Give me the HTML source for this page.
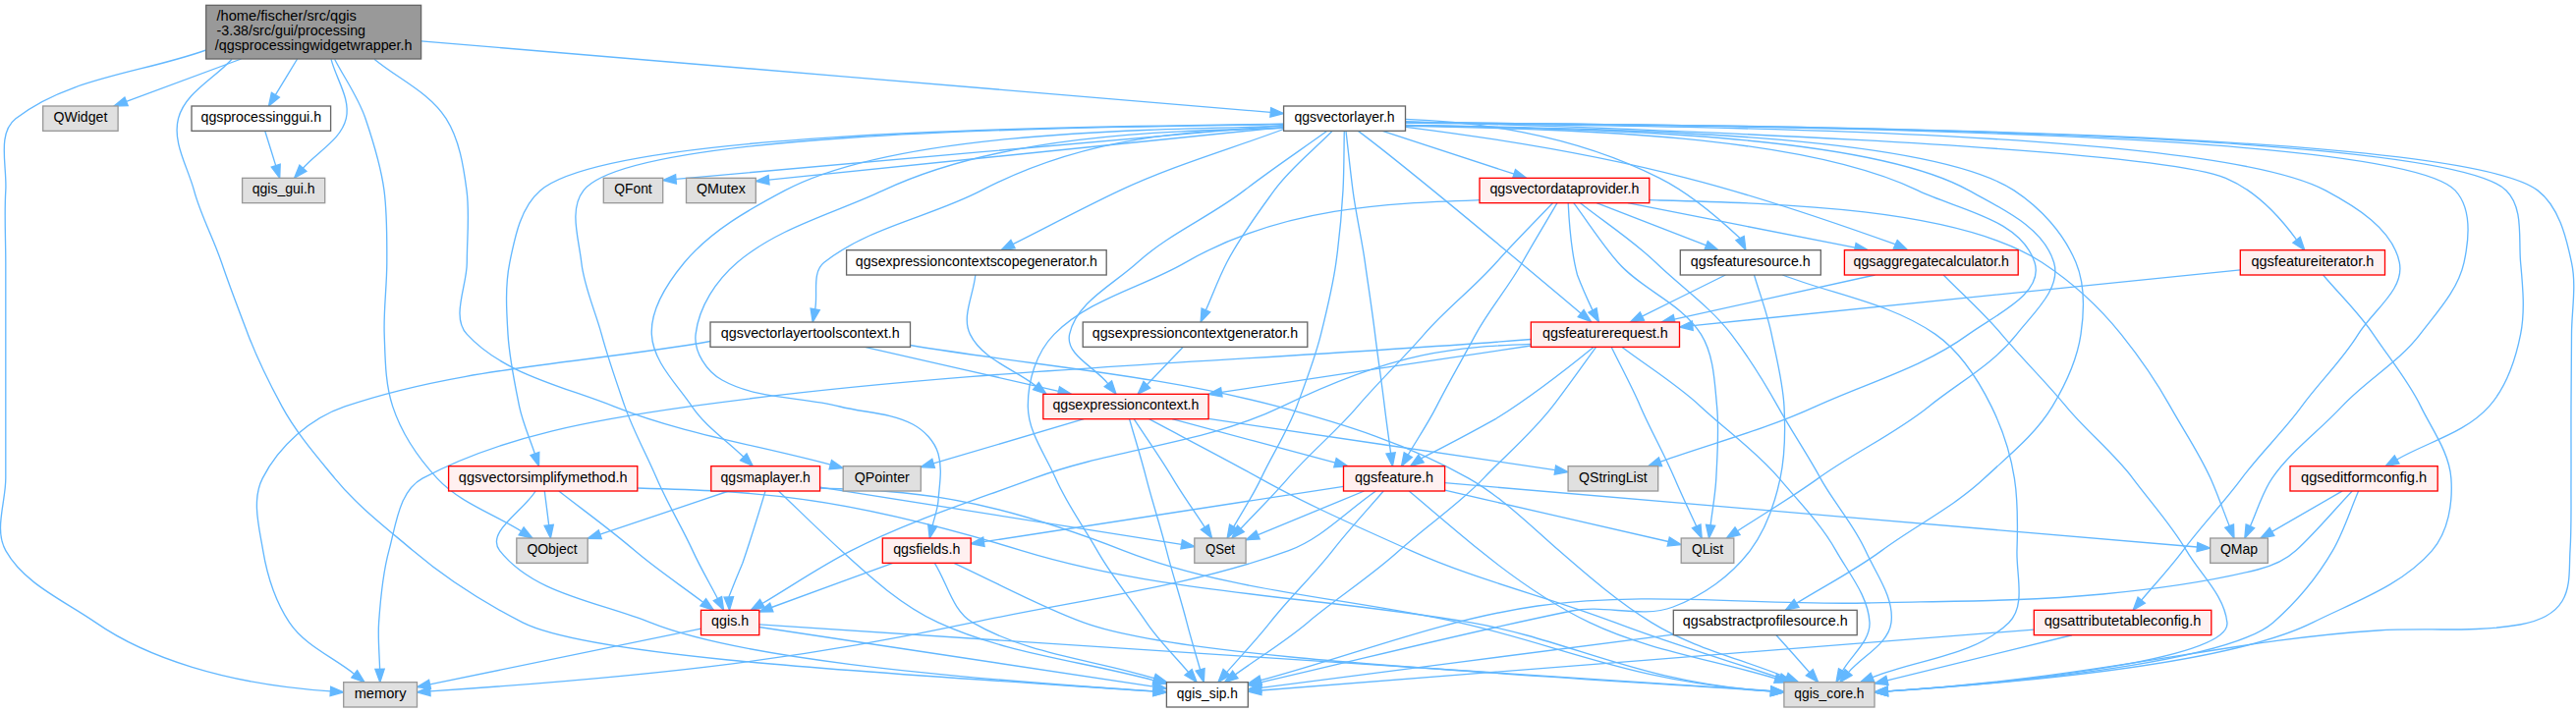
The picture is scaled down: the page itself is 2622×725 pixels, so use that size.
<!DOCTYPE html>
<html><head><meta charset="utf-8"><style>html,body{margin:0;padding:0;background:#fff;overflow:hidden}svg{display:block}</style></head><body>
<svg xmlns="http://www.w3.org/2000/svg" width="2622" height="725" viewBox="0 0 2622 725">
<rect width="2622" height="725" fill="#fff"/>
<g fill="none" stroke="#63b8ff" stroke-width="1.333">
<path d="M428.6,41.8C716.8,66.0 1005.1,90.2 1293.3,114.4"/>
<path d="M236.0,60.2C217.8,80.4 188.3,94.4 181.5,120.7C175.2,144.9 191.0,169.8 197.5,193.9C204.3,219.2 217.1,242.5 225.5,267.3C233.8,291.9 243.2,316.1 252.4,340.4C262.0,365.7 274.1,390.1 287.0,413.9C301.4,440.5 321.6,463.7 340.8,487.1C363.6,515.0 392.8,537.2 420.2,560.6C454.1,589.5 492.3,613.7 532.0,633.9C601.0,668.9 885.8,684.7 1174.1,703.9"/>
<path d="M209.7,51.0C145.1,74.2 70.1,78.5 16.0,120.7C-3.4,135.8 7.3,169.3 5.8,193.9C4.3,218.3 5.8,242.8 5.8,267.3C5.8,291.7 5.8,316.0 5.8,340.4C5.8,364.9 5.8,389.4 5.8,413.9C5.8,438.3 5.8,462.7 5.8,487.1C5.8,511.6 -6.2,539.2 5.8,560.6C24.9,594.7 65.3,611.6 97.4,633.9C147.8,668.9 229.1,696.8 336.4,703.9"/>
<path d="M340.6,60.2C351.1,80.4 364.7,99.2 372.0,120.7C380.1,144.6 387.7,168.9 391.0,193.9C394.2,218.2 393.8,242.8 393.8,267.3C393.8,291.7 390.3,316.0 391.2,340.4C392.1,365.0 392.0,390.5 399.7,413.9C408.7,441.1 425.5,466.1 445.0,487.1C467.9,511.8 502.0,523.0 530.6,540.9"/>
<path d="M381.0,60.2C405.3,80.4 437.1,94.0 454.0,120.7C467.6,142.2 471.7,168.7 475.0,193.9C478.2,218.2 475.3,242.8 475.3,267.3C475.3,291.7 458.8,322.5 475.3,340.4C512.9,381.3 573.4,393.3 625.0,413.9C695.6,442.1 771.9,453.4 845.3,473.2"/>
<path d="M302.6,60.0C295.2,72.2 287.8,84.4 280.4,96.6"/>
<path d="M337.0,60.2C342.1,80.4 357.0,100.4 352.3,120.7C347.3,142.4 323.0,154.4 308.4,171.3"/>
<path d="M245.5,60.0C206.5,74.5 167.5,88.9 128.6,103.4"/>
<path d="M1430.5,124.7C1751.0,128.1 2440.4,131.6 2499.0,193.9C2515.9,211.9 2513.3,243.2 2508.0,267.3C2501.9,295.2 2480.6,317.7 2463.3,340.4C2441.4,369.1 2408.2,387.4 2383.7,413.9C2360.6,438.9 2331.9,459.1 2312.6,487.1C2302.5,501.8 2297.8,519.6 2290.4,535.9"/>
<path d="M1430.5,124.4C1776.2,127.9 2500.9,131.4 2583.0,193.9C2604.5,210.3 2611.9,240.9 2617.5,267.3C2622.6,291.1 2617.6,316.0 2617.5,340.4C2617.4,364.9 2617.1,389.4 2617.0,413.9C2616.9,438.3 2617.1,462.7 2617.0,487.1C2616.8,511.6 2617.6,536.1 2616.0,560.6C2614.9,577.9 2617.0,597.2 2608.0,612.0C2599.5,626.0 2581.2,633.1 2565.0,636.0C2517.4,644.4 2468.3,638.9 2420.0,642.0C2265.5,651.9 2145.2,689.0 1921.3,703.9"/>
<path d="M1306.6,128.6C1154.3,131.9 909.9,135.2 799.0,193.9C761.9,213.6 723.5,235.0 696.6,267.3C679.5,287.9 662.0,313.7 663.3,340.4C664.6,368.4 688.6,390.6 704.3,413.9C718.0,434.2 739.3,448.2 756.8,465.3"/>
<path d="M1368.3,133.3C1367.9,153.5 1368.1,173.7 1367.0,193.9C1365.6,218.4 1363.3,243.0 1359.9,267.3C1356.5,292.0 1350.5,316.2 1344.5,340.4C1338.3,365.5 1328.8,389.7 1319.8,413.9C1310.3,439.4 1295.2,462.5 1283.6,487.1C1275.6,504.2 1265.0,520.0 1255.7,536.4"/>
<path d="M1306.6,126.5C1092.8,129.9 641.9,133.3 594.0,193.9C578.8,213.1 589.1,243.0 591.8,267.3C594.6,292.4 605.7,316.0 612.3,340.4C619.0,365.2 627.6,389.6 636.0,413.9C644.7,439.1 658.0,462.5 668.4,487.1C679.1,512.3 693.6,535.7 705.0,560.6C712.6,577.3 721.9,593.2 730.4,609.5"/>
<path d="M1356.2,133.3C1336.4,153.5 1313.5,171.0 1297.0,193.9C1279.9,217.6 1262.1,241.2 1248.7,267.3C1240.6,283.0 1234.5,299.6 1227.4,315.8"/>
<path d="M1350.9,133.3C1322.8,153.5 1293.9,172.8 1266.5,193.9C1231.9,220.6 1190.1,237.8 1157.8,267.3C1133.0,290.0 1095.7,307.6 1088.6,340.4C1084.1,361.2 1114.8,374.0 1127.9,390.8"/>
<path d="M1430.5,128.4C1587.0,131.7 1829.6,135.0 1952.0,193.9C1994.0,214.1 2056.9,222.9 2071.0,267.3C2081.0,298.9 2030.4,320.9 2003.7,340.4C1957.4,374.3 1900.1,389.9 1848.0,413.9C1797.2,437.3 1742.7,451.4 1690.0,470.2"/>
<path d="M1370.0,133.3C1372.3,153.5 1374.4,173.7 1377.0,193.9C1380.2,218.5 1386.0,242.7 1389.4,267.3C1392.8,291.7 1396.6,316.0 1399.6,340.4C1402.6,364.9 1406.4,389.4 1409.3,413.9C1411.2,429.8 1413.5,445.6 1415.6,461.4"/>
<path d="M1306.6,130.3C1184.3,133.5 1020.8,136.7 899.0,193.9C849.0,217.4 792.4,231.5 750.4,267.3C729.0,285.6 711.3,312.4 708.1,340.4C706.0,358.2 719.3,378.3 735.0,387.0C770.8,406.9 815.3,403.8 855.0,414.0C879.6,420.3 906.6,420.1 929.0,432.0C940.7,438.2 951.2,449.3 955.0,462.0C959.6,477.3 956.1,494.0 955.0,510.0C954.4,518.5 951.1,526.7 949.2,535.0"/>
<path d="M1430.5,127.8C1602.5,131.1 1897.8,134.4 2004.0,193.9C2037.0,212.4 2079.8,231.0 2090.6,267.3C2098.5,293.6 2069.6,318.8 2052.7,340.4C2028.9,370.8 1993.3,389.7 1963.3,413.9C1928.4,442.0 1886.9,460.8 1850.6,487.1C1824.1,506.2 1795.9,522.8 1768.5,540.7"/>
<path d="M1306.6,131.5C1251.1,152.3 1193.6,168.6 1140.0,193.9C1103.2,211.3 1067.3,230.4 1031.0,248.7"/>
<path d="M1306.6,127.5C1100.4,145.8 894.2,164.0 688.0,182.3"/>
<path d="M1430.6,123.7C1620.6,129.4 2187.1,148.8 2265.4,181.3 2297.6,194.8 2322.6,223.6 2337.4,243.9"/>
<path d="M1382.4,133.4C1429.5,168.3 1555.7,274.1 1609.0,318.9"/>
<path d="M1430.5,127.3C1616.3,130.7 1958.5,134.0 2050.0,193.9C2077.0,211.6 2100.6,237.5 2113.0,267.3C2122.4,289.8 2121.6,316.2 2118.0,340.4C2114.2,366.5 2102.6,391.3 2089.0,413.9C2071.6,442.7 2044.2,464.1 2019.7,487.1C1988.7,516.2 1949.5,535.3 1915.3,560.6C1888.0,580.8 1857.5,596.4 1828.5,614.3"/>
<path d="M1306.6,130.3C1214.3,133.5 1108.5,136.7 999.0,193.9C946.9,221.1 884.8,230.8 838.8,267.3C826.1,277.3 832.7,299.0 829.7,314.9"/>
<path d="M1407.2,133.3C1451.8,147.9 1496.4,162.6 1541.1,177.2"/>
<path d="M1430.6,121.3C1495.1,123.3 1597.4,134.6 1689.2,181.3 1718.6,196.1 1750.3,222.9 1771.0,242.5"/>
<path d="M1430.8,129.3C1499.9,138.0 1616.0,155.0 1717.0,181.3 1787.8,199.4 1876.0,229.7 1928.9,248.7"/>
<path d="M1306.6,126.2C1079.6,129.6 620.9,133.0 550.0,193.9C529.8,211.2 524.1,241.2 518.8,267.3C514.0,291.2 515.5,316.1 517.0,340.4C518.5,365.2 523.7,389.6 528.6,413.9C532.0,430.4 539.1,446.0 544.4,462.0"/>
<path d="M1306.6,129.5C1131.9,147.4 957.2,165.3 782.6,183.1"/>
<path d="M1430.5,125.2C1711.5,128.6 2251.0,132.1 2367.0,193.9C2397.9,210.4 2435.3,233.0 2442.3,267.3C2447.9,294.8 2415.0,316.4 2400.3,340.4C2384.1,367.0 2361.0,388.7 2342.7,413.9C2324.0,439.6 2300.6,461.6 2281.7,487.1C2262.9,512.5 2240.8,535.2 2222.0,560.6C2208.9,578.2 2193.8,594.3 2179.7,611.1"/>
<path d="M1430.5,124.5C1766.7,128.0 2487.2,131.4 2551.0,193.9C2568.8,211.4 2563.4,242.5 2565.6,267.3C2567.8,291.6 2570.3,316.5 2565.6,340.4C2560.4,366.6 2551.3,393.9 2533.5,413.9C2509.5,440.9 2470.9,450.0 2439.6,468.0"/>
<path d="M834.6,497.0C927.3,500.2 996.6,503.4 1143.5,560.6C1252.0,602.9 1371.4,608.6 1485.0,633.9C1590.8,657.5 1660.0,694.4 1802.6,703.9"/>
<path d="M834.6,496.1C957.3,515.6 1080.0,535.0 1202.6,554.4"/>
<path d="M779.0,500.2C774.1,516.5 764.9,547.2 755.9,573.3 751.1,584.7 746.0,597.3 741.8,607.9"/>
<path d="M792.5,500.0C813.7,520.2 834.6,540.8 856.2,560.6C886.4,588.3 917.8,616.7 955.0,633.9C1023.8,665.6 1101.3,673.1 1174.5,692.8"/>
<path d="M741.7,500.0C698.1,514.7 654.4,529.5 610.8,544.2"/>
<path d="M772.8,635.9C1116.1,658.4 1459.3,680.9 1802.6,703.4"/>
<path d="M772.8,638.5C906.6,658.7 1040.4,678.9 1174.2,699.1"/>
<path d="M713.5,640.1C621.5,659.1 529.5,678.0 437.6,696.9"/>
<path d="M1204.3,353.3C1192.0,366.1 1179.7,378.9 1167.4,391.7"/>
<path d="M1169.6,426.7C1207.2,446.8 1245.2,466.3 1282.5,487.1C1332.0,514.8 1384.2,537.3 1435.9,560.6C1502.9,590.8 1575.3,607.5 1644.0,633.9C1699.1,655.0 1755.8,671.6 1811.7,690.4"/>
<path d="M1154.2,426.7C1167.4,446.8 1181.5,466.4 1193.7,487.1C1203.8,504.2 1215.5,520.3 1226.3,536.9"/>
<path d="M1149.6,426.7C1155.3,446.8 1161.6,466.8 1166.8,487.1C1173.1,511.8 1181.2,535.9 1187.4,560.6C1193.6,585.2 1201.8,609.3 1208.0,633.9C1212.1,650.0 1217.1,665.9 1221.6,681.8"/>
<path d="M1230.1,426.4C1347.7,443.8 1465.3,461.2 1582.9,478.6"/>
<path d="M1193.1,426.7C1248.4,441.5 1303.7,456.4 1359.0,471.2"/>
<path d="M1103.1,426.7C1052.1,441.7 1001.1,456.8 950.1,471.9"/>
<path d="M1470.6,491.7C1725.9,513.5 1981.1,535.3 2236.4,557.0"/>
<path d="M1434.2,500.0C1458.2,520.2 1482.0,540.8 1506.4,560.6C1541.0,588.6 1577.9,614.6 1618.0,633.9C1677.3,662.4 1744.1,671.8 1807.1,690.8"/>
<path d="M1388.5,500.0C1352.4,514.9 1316.4,529.8 1280.4,544.7"/>
<path d="M1408.2,500.0C1390.9,520.2 1372.7,539.6 1356.4,560.6C1336.5,586.2 1312.6,608.4 1292.7,633.9C1278.9,651.5 1263.3,667.7 1248.6,684.6"/>
<path d="M1400.5,500.0C1370.9,520.2 1345.5,548.4 1311.8,560.6C1208.4,598.1 1097.6,610.9 990.0,633.9C826.4,668.9 685.7,687.4 437.8,703.9"/>
<path d="M1367.5,495.3C1245.5,514.1 1123.4,532.9 1001.4,551.7"/>
<path d="M1470.6,499.2C1546.5,516.6 1622.3,534.1 1698.2,551.5"/>
<path d="M970.9,573.3C1014.9,593.5 1057.5,617.2 1103.0,633.9C1198.1,668.9 1488.5,683.0 1802.6,703.9"/>
<path d="M908.7,573.3C867.6,588.4 826.4,603.5 785.3,618.5"/>
<path d="M951.3,573.3C964.2,593.5 969.3,621.8 990.0,633.9C1045.7,666.4 1113.3,671.8 1174.9,690.7"/>
<path d="M992.8,280.0C991.0,300.1 978.5,322.3 987.4,340.4C999.9,365.9 1032.1,375.5 1054.5,393.0"/>
<path d="M2364.6,280.0C2381.6,300.1 2401.1,318.5 2415.7,340.4C2432.0,364.8 2451.2,387.5 2464.0,413.9C2475.6,437.7 2493.0,460.7 2494.9,487.1C2496.7,512.4 2492.1,541.4 2475.5,560.6C2444.6,596.4 2396.3,612.7 2354.0,633.9C2284.0,668.9 2115.6,691.0 1921.3,703.9"/>
<path d="M2280.3,274.8C2094.5,293.8 1908.6,312.7 1722.8,331.6"/>
<path d="M1650.7,353.3C1677.5,373.5 1706.4,391.1 1731.0,413.9C1757.5,438.5 1787.7,459.5 1811.0,487.1C1831.1,510.9 1853.4,533.5 1868.7,560.6C1882.0,584.1 1901.6,607.0 1903.0,633.9C1903.9,652.6 1884.7,666.7 1875.5,683.0"/>
<path d="M1558.3,350.3C1482.3,353.5 1422.9,356.7 1305.0,413.9C1226.0,452.2 1134.3,456.5 1052.0,487.1C989.7,510.3 925.7,530.3 866.5,560.6C835.2,576.6 806.1,596.5 775.9,614.5"/>
<path d="M1624.6,353.3C1609.8,373.5 1595.5,394.1 1580.2,413.9C1559.6,440.7 1533.4,462.7 1510.0,487.1C1484.0,514.3 1452.1,535.3 1424.3,560.6C1395.1,587.2 1361.3,608.5 1331.0,633.9C1307.8,653.4 1281.9,669.2 1257.3,686.9"/>
<path d="M1558.3,345.5C1272.9,368.3 985.6,374.4 702.0,413.9C609.0,426.9 512.9,443.0 430.0,487.1C406.2,499.8 403.0,534.5 395.9,560.6C389.4,584.4 387.3,609.3 385.6,633.9C384.5,649.7 386.2,665.5 386.6,681.3"/>
<path d="M1558.3,352.0C1453.3,367.8 1348.3,383.6 1243.3,399.4"/>
<path d="M1622.0,353.4C1601.6,370.0 1562.0,401.7 1522.2,426.7 1497.2,440.7 1468.9,455.5 1446.9,466.7"/>
<path d="M1640.1,353.3C1650.0,373.5 1660.8,393.3 1669.7,413.9C1680.4,438.7 1694.0,462.2 1704.5,487.1C1711.4,503.6 1719.3,519.6 1726.7,535.9"/>
<path d="M1808.0,646.7C1819.3,659.3 1830.6,672.0 1841.8,684.7"/>
<path d="M1703.3,646.1C1563.4,664.1 1423.4,682.2 1283.5,700.3"/>
<path d="M926.5,351.5C1051.2,372.3 1178.5,381.5 1300.7,413.9C1367.6,431.6 1434.9,452.8 1495.0,487.1C1529.1,506.5 1557.3,534.8 1586.8,560.6C1616.7,586.8 1647.2,613.0 1681.0,633.9C1723.0,659.9 1772.6,671.1 1818.4,689.7"/>
<path d="M723.0,347.5C599.0,369.6 470.2,373.3 351.0,413.9C315.9,425.8 284.1,454.1 267.2,487.1C256.1,508.9 263.6,536.4 267.7,560.6C272.0,586.3 280.2,612.2 294.6,633.9C310.2,657.3 338.7,668.9 360.7,686.4"/>
<path d="M880.2,353.3C946.0,368.3 1011.7,383.4 1077.5,398.4"/>
<path d="M1678.8,203.7C1798.7,206.8 1991.5,210.0 2078.5,267.3C2108.8,287.2 2136.3,312.1 2159.0,340.4C2177.5,363.5 2194.6,388.0 2209.0,413.9C2222.6,438.3 2238.6,461.5 2250.0,487.1C2257.1,503.0 2262.8,519.4 2269.2,535.6"/>
<path d="M1608.5,206.7C1634.1,226.9 1661.8,244.6 1685.3,267.3C1710.7,291.9 1740.7,312.3 1762.2,340.4C1779.9,363.6 1795.4,388.4 1809.6,413.9C1823.4,438.7 1839.4,462.2 1853.0,487.1C1866.9,512.4 1887.1,534.2 1898.8,560.6C1909.3,584.3 1928.2,608.2 1925.0,633.9C1922.2,656.0 1896.0,667.7 1881.5,684.6"/>
<path d="M1580.4,206.7C1561.3,226.9 1541.4,246.4 1523.0,267.3C1500.2,293.2 1472.2,314.3 1449.6,340.4C1427.8,365.6 1403.4,388.5 1381.8,413.9C1359.8,439.8 1333.1,461.3 1310.9,487.1C1295.7,504.8 1278.9,521.2 1262.9,538.3"/>
<path d="M1506.0,203.7C1416.2,206.8 1305.8,210.0 1206.5,267.3C1162.6,292.7 1108.6,304.2 1073.0,340.4C1054.7,359.0 1046.1,387.8 1046.3,413.9C1046.5,440.0 1064.1,463.1 1074.5,487.1C1085.7,513.0 1102.9,536.0 1116.8,560.6C1131.4,586.4 1150.4,609.3 1167.0,633.9C1179.3,652.2 1195.4,667.6 1209.6,684.5"/>
<path d="M1585.0,206.7C1573.2,226.9 1560.9,246.8 1549.5,267.3C1535.4,292.7 1515.8,314.8 1502.1,340.4C1488.9,365.0 1474.8,389.0 1462.2,413.9C1453.6,430.9 1442.9,446.7 1433.2,463.2"/>
<path d="M1601.8,206.7C1616.8,226.9 1630.3,248.3 1646.9,267.3C1671.4,295.4 1711.8,308.7 1731.4,340.4C1744.6,361.7 1745.2,388.9 1747.6,413.9C1749.9,438.2 1748.0,462.7 1746.8,487.1C1746.0,503.1 1743.0,518.9 1741.1,534.8"/>
<path d="M1596.2,207.0C1597.0,223.5 1598.7,254.5 1605.5,280.0 1610.1,292.1 1615.9,305.1 1621.0,315.9"/>
<path d="M1625.1,206.7C1662.3,221.1 1699.5,235.5 1736.7,249.9"/>
<path d="M1656.9,206.7C1734.0,221.8 1811.1,237.0 1888.2,252.1"/>
<path d="M1814.4,280.0C1866.3,300.1 1924.4,308.5 1970.0,340.4C1995.4,358.2 2013.3,386.1 2027.0,413.9C2038.3,436.9 2046.4,461.8 2050.4,487.1C2054.3,511.3 2053.8,536.1 2053.0,560.6C2052.1,585.2 2062.4,616.7 2044.8,633.9C2009.0,668.7 1952.2,671.1 1905.9,689.7"/>
<path d="M1785.5,280.0C1791.4,300.1 1799.0,319.8 1803.2,340.4C1808.2,364.8 1814.7,389.1 1816.0,413.9C1817.3,438.3 1817.1,463.2 1812.0,487.1C1806.5,513.1 1797.3,539.4 1781.4,560.6C1762.0,586.5 1733.3,606.6 1703.0,618.0C1670.8,630.1 1633.7,615.2 1600.0,622.0C1493.8,643.6 1388.9,670.5 1283.3,694.8"/>
<path d="M1756.3,280.0C1728.0,294.0 1699.7,308.1 1671.4,322.1"/>
<path d="M1978.2,280.0C1997.9,300.1 2019.2,318.8 2037.3,340.4C2058.4,365.6 2082.2,388.5 2103.0,413.9C2124.1,439.6 2150.9,460.5 2170.9,487.1C2189.2,511.5 2210.0,534.3 2225.5,560.6C2239.7,584.8 2264.0,606.0 2266.9,633.9C2270.6,668.9 2076.5,693.6 1921.3,703.9"/>
<path d="M1908.5,280.0C1840.4,295.0 1772.3,310.1 1704.2,325.1"/>
<path d="M648.8,497.0C766.1,500.2 852.8,503.4 1039.8,560.6C1187.4,605.8 1345.0,607.3 1497.0,633.9C1599.9,651.9 1665.4,694.8 1802.6,703.9"/>
<path d="M568.8,500.0C594.6,520.2 621.2,539.3 646.0,560.6C668.1,579.6 692.5,595.7 715.7,613.3"/>
<path d="M545.1,500.0C532.9,520.2 494.0,542.1 508.6,560.6C543.6,605.2 609.4,612.7 662.0,633.9C749.0,668.9 944.2,688.6 1174.1,703.9"/>
<path d="M554.3,500.0C555.8,511.6 557.2,523.2 558.7,534.8"/>
<path d="M2109.0,646.7C2046.3,662.1 1983.6,677.5 1920.9,692.8"/>
<path d="M2070.3,641.1C1808.1,661.7 1545.8,682.4 1283.6,703.0"/>
<path d="M2384.2,500.0C2360.3,513.8 2336.4,527.6 2312.5,541.3"/>
<path d="M2400.6,500.0C2391.9,520.2 2385.5,541.6 2374.4,560.6C2358.4,588.0 2337.6,613.0 2313.7,633.9C2273.7,668.9 2097.5,692.2 1921.3,703.9"/>
<path d="M2394.2,500.0C2375.1,520.2 2357.4,541.8 2337.0,560.6C2326.3,570.5 2312.1,576.5 2298.0,580.0C2246.3,593.0 2193.1,600.0 2140.0,605.0C2060.3,612.6 1980.0,612.1 1900.0,614.0C1788.4,616.6 1675.6,601.3 1565.0,617.0C1468.7,630.7 1377.1,667.5 1283.2,692.7"/>
<path d="M269.7,133.3C273.4,145.1 277.1,156.8 280.7,168.6"/>
</g>
<g fill="#63b8ff" stroke="#63b8ff" stroke-width="1.333">
<polygon points="1306.6,115.5 1292.9,119.0 1293.7,109.7"/>
<polygon points="1187.4,704.8 1173.8,708.6 1174.4,699.3"/>
<polygon points="349.7,704.8 336.1,708.6 336.7,699.3"/>
<polygon points="541.9,548.0 528.1,544.9 533.1,537.0"/>
<polygon points="858.2,476.7 844.1,477.7 846.5,468.7"/>
<polygon points="273.5,108.0 276.4,94.2 284.4,99.0"/>
<polygon points="299.6,181.3 304.9,168.2 311.9,174.3"/>
<polygon points="116.0,108.0 126.9,99.0 130.2,107.7"/>
<polygon points="2284.8,548.0 2286.1,533.9 2294.6,537.8"/>
<polygon points="1908.0,704.8 1921.0,699.3 1921.6,708.6"/>
<polygon points="766.3,474.7 753.5,468.7 760.0,462.0"/>
<polygon points="1249.1,548.0 1251.6,534.1 1259.8,538.7"/>
<polygon points="736.6,621.3 726.3,611.7 734.6,607.4"/>
<polygon points="1222.1,328.0 1223.1,313.9 1231.7,317.7"/>
<polygon points="1136.1,401.3 1124.2,393.7 1131.6,387.9"/>
<polygon points="1677.5,474.7 1688.4,465.8 1691.6,474.6"/>
<polygon points="1417.4,474.7 1411.0,462.1 1420.2,460.8"/>
<polygon points="946.2,548.0 944.7,534.0 953.7,536.1"/>
<polygon points="1757.4,548.0 1766.0,536.8 1771.1,544.6"/>
<polygon points="1019.1,254.7 1028.9,244.5 1033.1,252.8"/>
<polygon points="674.7,183.5 687.6,177.7 688.4,187.0"/>
<polygon points="2341.2,241.3 2345.8,254.7 2333.9,247.1 2341.2,241.3"/>
<polygon points="1612.1,315.5 1619.5,327.5 1606.2,322.7 1612.1,315.5"/>
<polygon points="1817.2,621.3 1826.1,610.3 1831.0,618.3"/>
<polygon points="827.2,328.0 825.1,314.0 834.3,315.8"/>
<polygon points="1553.7,181.3 1539.6,181.6 1542.5,172.7"/>
<polygon points="1775.2,240.5 1776.9,254.5 1766.9,244.6 1775.2,240.5"/>
<polygon points="1931.2,244.6 1941.4,254.4 1927.3,253.1 1931.2,244.6"/>
<polygon points="548.5,474.7 540.0,463.5 548.8,460.5"/>
<polygon points="769.3,184.5 782.1,178.5 783.0,187.8"/>
<polygon points="2171.2,621.3 2176.1,608.1 2183.3,614.1"/>
<polygon points="2428.1,474.7 2437.3,464.0 2442.0,472.1"/>
<polygon points="1815.9,704.8 1802.3,708.6 1802.9,699.3"/>
<polygon points="1215.8,556.5 1201.9,559.0 1203.4,549.8"/>
<polygon points="746.5,607.7 742.5,621.3 737.1,608.2 746.5,607.7"/>
<polygon points="1187.4,696.2 1173.3,697.3 1175.7,688.3"/>
<polygon points="598.2,548.4 609.3,539.8 612.3,548.6"/>
<polygon points="1815.9,704.3 1802.3,708.1 1802.9,698.8"/>
<polygon points="1187.4,701.1 1173.5,703.7 1174.9,694.5"/>
<polygon points="424.5,699.6 436.6,692.4 438.5,701.5"/>
<polygon points="1158.1,401.3 1164.0,388.5 1170.7,395.0"/>
<polygon points="1824.4,694.7 1810.2,694.8 1813.2,686.0"/>
<polygon points="1233.6,548.0 1222.4,539.4 1230.2,534.3"/>
<polygon points="1225.3,694.7 1217.1,683.1 1226.1,680.6"/>
<polygon points="1596.1,480.6 1582.2,483.2 1583.6,474.0"/>
<polygon points="1371.9,474.7 1357.8,475.7 1360.2,466.7"/>
<polygon points="937.3,475.6 948.8,467.4 951.4,476.3"/>
<polygon points="2249.7,558.2 2236.0,561.7 2236.8,552.4"/>
<polygon points="1819.9,694.7 1805.8,695.3 1808.4,686.4"/>
<polygon points="1268.1,549.8 1278.6,540.4 1282.2,549.0"/>
<polygon points="1239.9,694.7 1245.1,681.5 1252.1,687.7"/>
<polygon points="424.5,704.8 437.5,699.3 438.1,708.6"/>
<polygon points="988.2,553.7 1000.7,547.1 1002.1,556.3"/>
<polygon points="1711.2,554.5 1697.2,556.1 1699.3,547.0"/>
<polygon points="1815.9,704.8 1802.3,708.6 1802.9,699.3"/>
<polygon points="772.8,623.1 783.7,614.2 786.9,622.9"/>
<polygon points="1187.7,694.7 1173.5,695.2 1176.3,686.3"/>
<polygon points="1065.0,401.2 1051.6,396.7 1057.4,389.3"/>
<polygon points="1908.0,704.8 1921.0,699.3 1921.6,708.6"/>
<polygon points="1709.5,333.0 1722.3,327.0 1723.2,336.3"/>
<polygon points="1869.0,694.7 1871.5,680.8 1879.6,685.3"/>
<polygon points="764.4,621.3 773.5,610.5 778.3,618.5"/>
<polygon points="1246.5,694.7 1254.6,683.1 1260.0,690.7"/>
<polygon points="386.8,694.7 381.9,681.4 391.2,681.2"/>
<polygon points="1230.1,401.4 1242.6,394.8 1244.0,404.0"/>
<polygon points="1449.2,470.8 1435.6,474.6 1443.8,463.2 1449.2,470.8"/>
<polygon points="1732.2,548.0 1722.5,537.8 1731.0,533.9"/>
<polygon points="1850.7,694.7 1838.3,687.8 1845.3,681.6"/>
<polygon points="1270.3,702.0 1282.9,695.6 1284.1,704.9"/>
<polygon points="1830.7,694.7 1816.6,694.0 1820.1,685.3"/>
<polygon points="371.1,694.7 357.8,690.0 363.6,682.7"/>
<polygon points="1090.5,401.3 1076.4,402.9 1078.5,393.8"/>
<polygon points="2274.0,548.0 2264.8,537.3 2273.5,533.9"/>
<polygon points="1872.8,694.7 1878.0,681.5 1885.1,687.6"/>
<polygon points="1253.8,548.0 1259.5,535.1 1266.3,541.5"/>
<polygon points="1218.2,694.7 1206.0,687.5 1213.2,681.5"/>
<polygon points="1426.5,474.7 1429.2,460.8 1437.3,465.5"/>
<polygon points="1739.5,548.0 1736.5,534.2 1745.7,535.3"/>
<polygon points="1625.1,313.8 1627.4,327.7 1616.9,318.2 1625.1,313.8"/>
<polygon points="1749.1,254.7 1735.0,254.2 1738.3,245.5"/>
<polygon points="1901.3,254.7 1887.3,256.7 1889.1,247.5"/>
<polygon points="1893.5,694.7 1904.1,685.4 1907.6,694.0"/>
<polygon points="1270.3,697.8 1282.2,690.3 1284.3,699.4"/>
<polygon points="1659.4,328.0 1669.3,317.9 1673.5,326.3"/>
<polygon points="1908.0,704.8 1921.0,699.3 1921.6,708.6"/>
<polygon points="1691.2,328.0 1703.2,320.6 1705.3,329.7"/>
<polygon points="1815.9,704.8 1802.3,708.6 1802.9,699.3"/>
<polygon points="726.4,621.3 712.9,617.0 718.6,609.6"/>
<polygon points="1187.4,704.8 1173.8,708.6 1174.4,699.3"/>
<polygon points="560.4,548.0 554.1,535.4 563.3,534.2"/>
<polygon points="1908.0,696.0 1919.8,688.3 1922.1,697.4"/>
<polygon points="1270.3,704.1 1283.2,698.4 1284.0,707.7"/>
<polygon points="2301.0,548.0 2310.2,537.3 2314.9,545.4"/>
<polygon points="1908.0,704.8 1921.0,699.3 1921.6,708.6"/>
<polygon points="1270.3,696.2 1282.0,688.2 1284.4,697.2"/>
<polygon points="284.7,181.3 276.3,170.0 285.2,167.2"/>
</g>
<g font-family="Liberation Sans, sans-serif" font-size="14" fill="#000">
<rect x="209.70" y="5.33" width="218.90" height="54.67" fill="#999999" stroke="#666666" stroke-width="1.333"/>
<text x="220.48" y="21.33" textLength="142.46" lengthAdjust="spacingAndGlyphs">/home/fischer/src/qgis</text>
<text x="220.48" y="36.00" textLength="151.61" lengthAdjust="spacingAndGlyphs">-3.38/src/gui/processing</text>
<text x="218.76" y="50.67" textLength="200.78" lengthAdjust="spacingAndGlyphs">/qgsprocessingwidgetwrapper.h</text>
<rect x="1306.60" y="108.00" width="123.90" height="25.33" fill="white" stroke="#666666" stroke-width="1.333"/>
<text x="1317.40" y="124.00" textLength="102.29" lengthAdjust="spacingAndGlyphs">qgsvectorlayer.h</text>
<rect x="1187.40" y="694.67" width="82.90" height="25.33" fill="white" stroke="#666666" stroke-width="1.333"/>
<text x="1197.86" y="710.67" textLength="61.99" lengthAdjust="spacingAndGlyphs">qgis_sip.h</text>
<rect x="349.70" y="694.67" width="74.80" height="25.33" fill="#e0e0e0" stroke="#999999" stroke-width="1.333"/>
<text x="360.69" y="710.67" textLength="52.83" lengthAdjust="spacingAndGlyphs">memory</text>
<rect x="525.80" y="548.00" width="72.40" height="25.33" fill="#e0e0e0" stroke="#999999" stroke-width="1.333"/>
<text x="536.40" y="564.00" textLength="51.20" lengthAdjust="spacingAndGlyphs">QObject</text>
<rect x="858.20" y="474.67" width="79.10" height="25.33" fill="#e0e0e0" stroke="#999999" stroke-width="1.333"/>
<text x="869.72" y="490.67" textLength="56.07" lengthAdjust="spacingAndGlyphs">QPointer</text>
<rect x="195.00" y="108.00" width="141.60" height="25.33" fill="white" stroke="#666666" stroke-width="1.333"/>
<text x="204.52" y="124.00" textLength="122.56" lengthAdjust="spacingAndGlyphs">qgsprocessinggui.h</text>
<rect x="246.60" y="181.33" width="84.10" height="25.33" fill="#e0e0e0" stroke="#999999" stroke-width="1.333"/>
<text x="256.73" y="197.33" textLength="63.84" lengthAdjust="spacingAndGlyphs">qgis_gui.h</text>
<rect x="43.70" y="108.00" width="76.40" height="25.33" fill="#e0e0e0" stroke="#999999" stroke-width="1.333"/>
<text x="54.47" y="124.00" textLength="54.85" lengthAdjust="spacingAndGlyphs">QWidget</text>
<rect x="2249.70" y="548.00" width="58.70" height="25.33" fill="#e0e0e0" stroke="#999999" stroke-width="1.333"/>
<text x="2259.96" y="564.00" textLength="38.19" lengthAdjust="spacingAndGlyphs">QMap</text>
<rect x="1815.90" y="694.67" width="92.10" height="25.33" fill="#e0e0e0" stroke="#999999" stroke-width="1.333"/>
<text x="1826.36" y="710.67" textLength="71.18" lengthAdjust="spacingAndGlyphs">qgis_core.h</text>
<rect x="723.80" y="474.67" width="110.80" height="25.33" fill="#fff0f0" stroke="red" stroke-width="1.333"/>
<text x="733.52" y="490.67" textLength="91.36" lengthAdjust="spacingAndGlyphs">qgsmaplayer.h</text>
<rect x="1215.80" y="548.00" width="52.30" height="25.33" fill="#e0e0e0" stroke="#999999" stroke-width="1.333"/>
<text x="1226.92" y="564.00" textLength="30.07" lengthAdjust="spacingAndGlyphs">QSet</text>
<rect x="713.50" y="621.33" width="59.30" height="25.33" fill="#fff0f0" stroke="red" stroke-width="1.333"/>
<text x="724.13" y="637.33" textLength="38.04" lengthAdjust="spacingAndGlyphs">qgis.h</text>
<rect x="1102.20" y="328.00" width="228.60" height="25.33" fill="white" stroke="#666666" stroke-width="1.333"/>
<text x="1111.76" y="344.00" textLength="209.47" lengthAdjust="spacingAndGlyphs">qgsexpressioncontextgenerator.h</text>
<rect x="1061.80" y="401.33" width="168.30" height="25.33" fill="#fff0f0" stroke="red" stroke-width="1.333"/>
<text x="1071.44" y="417.33" textLength="149.02" lengthAdjust="spacingAndGlyphs">qgsexpressioncontext.h</text>
<rect x="1596.10" y="474.67" width="91.60" height="25.33" fill="#e0e0e0" stroke="#999999" stroke-width="1.333"/>
<text x="1607.12" y="490.67" textLength="69.56" lengthAdjust="spacingAndGlyphs">QStringList</text>
<rect x="1367.50" y="474.67" width="103.10" height="25.33" fill="#fff0f0" stroke="red" stroke-width="1.333"/>
<text x="1379.05" y="490.67" textLength="80.00" lengthAdjust="spacingAndGlyphs">qgsfeature.h</text>
<rect x="898.30" y="548.00" width="89.90" height="25.33" fill="#fff0f0" stroke="red" stroke-width="1.333"/>
<text x="909.16" y="564.00" textLength="68.17" lengthAdjust="spacingAndGlyphs">qgsfields.h</text>
<rect x="1711.20" y="548.00" width="53.60" height="25.33" fill="#e0e0e0" stroke="#999999" stroke-width="1.333"/>
<text x="1721.98" y="564.00" textLength="32.04" lengthAdjust="spacingAndGlyphs">QList</text>
<rect x="861.60" y="254.67" width="264.60" height="25.33" fill="white" stroke="#666666" stroke-width="1.333"/>
<text x="870.88" y="270.67" textLength="246.05" lengthAdjust="spacingAndGlyphs">qgsexpressioncontextscopegenerator.h</text>
<rect x="614.30" y="181.33" width="60.40" height="25.33" fill="#e0e0e0" stroke="#999999" stroke-width="1.333"/>
<text x="625.27" y="197.33" textLength="38.45" lengthAdjust="spacingAndGlyphs">QFont</text>
<rect x="2280.30" y="254.67" width="147.20" height="25.33" fill="#fff0f0" stroke="red" stroke-width="1.333"/>
<text x="2291.53" y="270.67" textLength="124.74" lengthAdjust="spacingAndGlyphs">qgsfeatureiterator.h</text>
<rect x="1558.30" y="328.00" width="151.20" height="25.33" fill="#fff0f0" stroke="red" stroke-width="1.333"/>
<text x="1569.94" y="344.00" textLength="127.92" lengthAdjust="spacingAndGlyphs">qgsfeaturerequest.h</text>
<rect x="1703.30" y="621.33" width="186.90" height="25.33" fill="white" stroke="#666666" stroke-width="1.333"/>
<text x="1712.87" y="637.33" textLength="167.76" lengthAdjust="spacingAndGlyphs">qgsabstractprofilesource.h</text>
<rect x="723.00" y="328.00" width="203.50" height="25.33" fill="white" stroke="#666666" stroke-width="1.333"/>
<text x="733.83" y="344.00" textLength="181.84" lengthAdjust="spacingAndGlyphs">qgsvectorlayertoolscontext.h</text>
<rect x="1506.00" y="181.33" width="172.80" height="25.33" fill="#fff0f0" stroke="red" stroke-width="1.333"/>
<text x="1516.44" y="197.33" textLength="151.93" lengthAdjust="spacingAndGlyphs">qgsvectordataprovider.h</text>
<rect x="1710.30" y="254.67" width="143.00" height="25.33" fill="white" stroke="#666666" stroke-width="1.333"/>
<text x="1720.87" y="270.67" textLength="121.85" lengthAdjust="spacingAndGlyphs">qgsfeaturesource.h</text>
<rect x="1877.40" y="254.67" width="176.80" height="25.33" fill="#fff0f0" stroke="red" stroke-width="1.333"/>
<text x="1886.61" y="270.67" textLength="158.38" lengthAdjust="spacingAndGlyphs">qgsaggregatecalculator.h</text>
<rect x="456.60" y="474.67" width="192.20" height="25.33" fill="#fff0f0" stroke="red" stroke-width="1.333"/>
<text x="466.83" y="490.67" textLength="171.74" lengthAdjust="spacingAndGlyphs">qgsvectorsimplifymethod.h</text>
<rect x="698.50" y="181.33" width="70.80" height="25.33" fill="#e0e0e0" stroke="#999999" stroke-width="1.333"/>
<text x="708.97" y="197.33" textLength="49.87" lengthAdjust="spacingAndGlyphs">QMutex</text>
<rect x="2070.30" y="621.33" width="180.50" height="25.33" fill="#fff0f0" stroke="red" stroke-width="1.333"/>
<text x="2080.65" y="637.33" textLength="159.81" lengthAdjust="spacingAndGlyphs">qgsattributetableconfig.h</text>
<rect x="2331.00" y="474.67" width="150.20" height="25.33" fill="#fff0f0" stroke="red" stroke-width="1.333"/>
<text x="2342.03" y="490.67" textLength="128.13" lengthAdjust="spacingAndGlyphs">qgseditformconfig.h</text>
</g>
</svg>
</body></html>
